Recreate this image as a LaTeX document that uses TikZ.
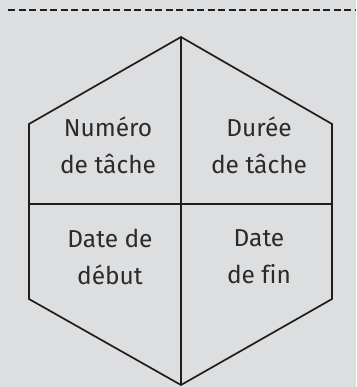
\documentclass[tikz,border=0pt]{standalone}
\usepackage{fontspec}
\setmainfont{Fira Sans}[Ligatures=NoCommon]
\usetikzlibrary{positioning}
\definecolor{fond}{HTML}{DDDEE0}
\definecolor{trait}{HTML}{1E1E1E}
\definecolor{texte}{HTML}{2B2B2B}

\begin{document}
\begin{tikzpicture}[x=1pt,y=-1pt,line width=1.7pt,
    case/.style={text=texte,align=center,font=\fontsize{24.5}{37}\selectfont},
    pointille/.style={draw=trait,line width=1.3pt,dash pattern=on 7pt off 3.5pt}]
  % fond gris
  \fill[fond] (0,0) rectangle (356,387);
  \useasboundingbox (0,0) rectangle (356,387);

  % sommets de l'hexagone
  \coordinate (haut) at (181,37);
  \coordinate (hd)   at (332,124);
  \coordinate (bd)   at (332,299);
  \coordinate (bas)  at (181,385);
  \coordinate (bg)   at (29,299);
  \coordinate (hg)   at (29,124);
  \coordinate (mg)   at (29,204);
  \coordinate (md)   at (332,204);
  \coordinate (ga)   at (8,10);
  \coordinate (dr)   at (356,10);

  \draw[pointille] (ga) -- (dr);
  \draw[trait,line join=miter] (haut) -- (hd) -- (bd) -- (bas) -- (bg) -- (hg) -- cycle;
  \draw[trait] (haut) -- (bas);
  \draw[trait] (mg) -- (md);

  \node[case] (numero) at (108,145) {Numéro\\de tâche};
  \node[case] (duree)  at (259,145) {Durée\\de tâche};
  \node[case] (debut)  at (110,257) {Date de\\début};
  \node[case] (fin)    at (259,257) {Date\\de fin};
\end{tikzpicture}
\end{document}
